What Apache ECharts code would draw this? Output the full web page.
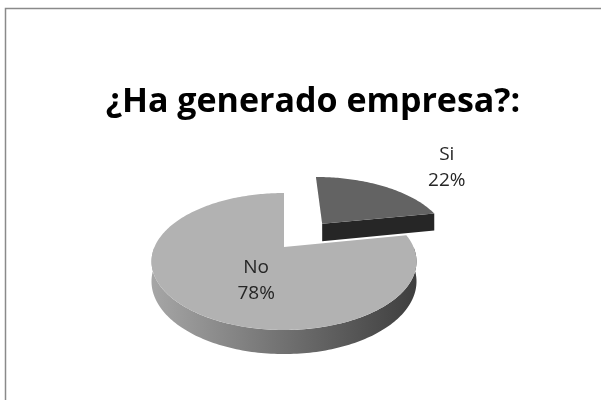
<!DOCTYPE html>
<html>
<head>
<meta charset="utf-8">
<script src="https://cdn.jsdelivr.net/npm/echarts@6/dist/echarts.min.js"></script>
<style>
  html, body { margin: 0; padding: 0; background: #fff; }
  #pie3d { width: 601px; height: 400px; }
</style>
</head>
<body>
<div id="pie3d"></div>
<script>
// datos
var categorias = ['Si', 'No'];
var valores = [22, 78];
var colorCara = ['#636363', '#b2b2b2'];
var colorLado = ['#262626', '#5a5a5a'];
var separado = [0.5, 0];      // cuanto se aparta cada porcion
var etiquetaDentro = [false, true];

// geometria del pastel 3d (pixeles)
var CX = 284, CY = 247, RX = 129.5, RY = 65.4, P = 0.2117, FONDO = 19;
var RXe = RX / Math.sqrt(1 - P * P);
var RYe = (RY / (1 - P) + RY / (1 + P)) / 2;
var CYe = CY + (RY / (1 - P) - RY / (1 + P)) / 2;

var total = 0;
for (var i = 0; i < valores.length; i++) total += valores[i];
var inicio = [], fin = [];
var acum = 0;
for (var i = 0; i < valores.length; i++) {
    inicio.push(acum / total * Math.PI * 2);
    acum += valores[i];
    fin.push(acum / total * Math.PI * 2);
}

function proyectar(u, v, dz) {
    var s = 1 / (1 + P * v);
    return [CX + RX * u * s, CY - RY * v * s + dz * s];
}

function renderPorcion(params, api) {
    var idx = params.dataIndex;
    var a0 = inicio[idx], a1 = fin[idx];
    var medio = (a0 + a1) / 2;
    var ou = separado[idx] * Math.sin(medio), ov = separado[idx] * Math.cos(medio);
    function punto(a, r, dz) {
        return proyectar(ou + r * Math.sin(a), ov + r * Math.cos(a), dz);
    }
    var base = Math.round((1 - Math.cos(medio)) * 10) * 10;
    var hijos = [];

    // caras radiales visibles
    var caras = [];
    if (Math.sin(a1) > 0.001) caras.push(a1);
    if (Math.sin(a0) < -0.001) caras.push(a0);
    caras.forEach(function (a) {
        hijos.push({
            type: 'polygon', z2: base + 1,
            shape: { points: [punto(a, 0, 0), punto(a, 1, 0), punto(a, 1, FONDO), punto(a, 0, FONDO)] },
            style: { fill: colorLado[idx] }
        });
    });

    // pared exterior (solo la mitad de delante)
    var w0 = Math.max(a0, Math.PI / 2), w1 = Math.min(a1, Math.PI * 1.5);
    if (w1 > w0) {
        var arriba = [], abajo = [];
        var n = Math.max(8, Math.ceil((w1 - w0) / 0.02));
        for (var k = 0; k <= n; k++) {
            var a = w0 + (w1 - w0) * k / n;
            arriba.push(punto(a, 1, 0));
            abajo.unshift(punto(a, 1, FONDO));
        }
        hijos.push({
            type: 'polygon', z2: base + 2,
            shape: { points: arriba.concat(abajo) },
            style: {
                fill: {
                    type: 'linear', x: 0, y: 0, x2: 1, y2: 0,
                    colorStops: [
                        { offset: 0, color: '#a6a6a6' },
                        { offset: 0.45, color: '#767676' },
                        { offset: 1, color: '#3e3e3e' }
                    ]
                }
            }
        });
    }

    // cara de arriba
    var cara = [punto(0, 0, 0)];
    var m = Math.max(8, Math.ceil((a1 - a0) / 0.02));
    for (var k = 0; k <= m; k++) {
        cara.push(punto(a0 + (a1 - a0) * k / m, 1, 0));
    }
    hijos.push({
        type: 'polygon', z2: base + 3,
        shape: { points: cara },
        style: { fill: colorCara[idx] }
    });

    // etiqueta
    var kr = etiquetaDentro[idx] ? 0.33 : 1.88;
    var pct = Math.round(api.value(0) / total * 100) + '%';
    hijos.push({
        type: 'text', z2: 500,
        x: CX + RXe * kr * Math.sin(medio) + (etiquetaDentro[idx] ? 0 : 4),
        y: CYe - RYe * kr * Math.cos(medio) + (etiquetaDentro[idx] ? 2 : 5),
        style: {
            text: categorias[idx] + '\n' + pct,
            fill: '#262626',
            fontSize: 19,
            fontFamily: 'Open Sans',
            lineHeight: 26,
            align: 'center',
            verticalAlign: 'middle'
        }
    });

    return { type: 'group', children: hijos };
}

var grafico = echarts.init(document.getElementById('pie3d'));
var option = {
    animation: false,
    title: {
        text: '¿Ha generado empresa?:',
        left: 308,
        textAlign: 'center',
        top: 80,
        textStyle: {
            fontFamily: 'Open Sans',
            fontWeight: 'bold',
            fontSize: 34,
            color: '#000'
        }
    },
    graphic: [
        {
            type: 'rect',
            shape: { x: 5.5, y: 8.5, width: 700, height: 500 },
            style: { fill: 'none', stroke: '#8a8a8a', lineWidth: 1.5 },
            silent: true
        }
    ],
    series: [
        {
            type: 'custom',
            coordinateSystem: 'none',
            renderItem: renderPorcion,
            data: valores.map(function (v, i) { return { name: categorias[i], value: [v] }; })
        }
    ]
};
grafico.setOption(option);
</script>
</body>
</html>
